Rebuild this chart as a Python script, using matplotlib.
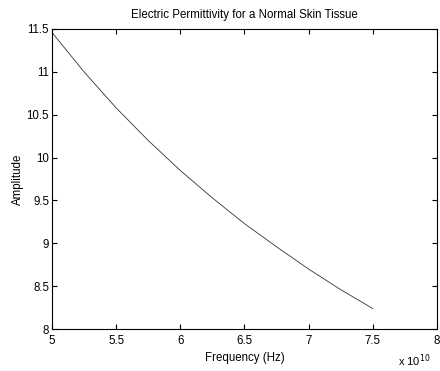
import matplotlib.pyplot as plt
import numpy as np
from matplotlib.ticker import FormatStrFormatter

plt.rcParams['font.family'] = ['Liberation Sans', 'DejaVu Sans']

# frequency (Hz) and permittivity
freq_hz = np.array([5.0, 5.25, 5.5, 5.75, 6.0, 6.25, 6.5, 6.75, 7.0, 7.25, 7.5]) * 1e10
amplitude = [11.46, 11.0, 10.58, 10.20, 9.85, 9.53, 9.23, 8.96, 8.70, 8.46, 8.24]

x_ticks = [5, 5.5, 6, 6.5, 7, 7.5, 8]
y_ticks = [8, 8.5, 9, 9.5, 10, 10.5, 11, 11.5]

fig = plt.figure(figsize=(4.4, 3.71), dpi=100)
ax = fig.add_axes([0.118, 0.113, 0.875, 0.809])

ax.plot(freq_hz / 1e10, amplitude, color='#333333', linewidth=0.6)

ax.set_xlim(5, 8)
ax.set_ylim(8, 11.5)
ax.set_xticks(x_ticks)
ax.set_yticks(y_ticks)
ax.xaxis.set_major_formatter(FormatStrFormatter('%g'))
ax.yaxis.set_major_formatter(FormatStrFormatter('%g'))

ax.tick_params(direction='in', length=3.5, width=0.8, top=True, right=True,
               labelsize=8.3)
ax.tick_params(axis='x', pad=4)
ax.tick_params(axis='y', pad=2)
for sp in ax.spines.values():
    sp.set_linewidth(0.8)

ax.set_title('Electric Permittivity for a Normal Skin Tissue', fontsize=8.3, pad=8)
ax.set_xlabel('Frequency (Hz)', fontsize=8.3, labelpad=4)
ax.set_ylabel('Amplitude', fontsize=8.3, labelpad=2)

fig.text(0.905, 0.015, r'x 10$^{10}$', fontsize=8)

plt.savefig('out.png', dpi=100)
